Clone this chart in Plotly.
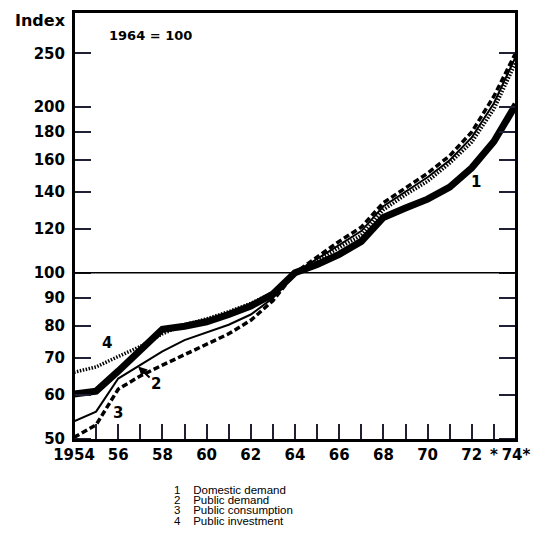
import math
import plotly.graph_objects as go

# Index values, 1964 = 100
years = list(range(1954, 1975))
domestic_demand = [60.3, 61.0, 66.3, 72.5, 79.0, 80.0, 81.5, 84.0, 87.0, 91.5, 100,
                   103.5, 108, 114, 126, 131, 136, 143, 155, 173, 202]
public_demand = [53.8, 56.0, 64.3, 68.0, 72.0, 75.5, 78.0, 80.5, 84.0, 90.0, 100,
                 106, 112.5, 119, 132, 140.5, 149, 160, 176, 203, 247]
public_consumption = [50.3, 53.0, 61.5, 65.0, 68.0, 71.0, 74.0, 77.5, 82.0, 89.0, 100,
                      107, 114, 121, 134, 142.5, 151.5, 163, 180, 209, 251]
public_investment = [66.0, 67.5, 70.5, 73.5, 77.5, 80.5, 82.5, 85.0, 88.0, 92.0, 100,
                     105.5, 111, 117, 130, 138.5, 146.5, 158, 172.5, 198, 241]

y_tickvals = [50, 60, 70, 80, 90, 100, 120, 140, 160, 180, 200, 250]
x_tickvals = years
x_ticktext = ["1954" if y == 1954 else ("*" if y == 1973 else ("74*" if y == 1974 else
              (str(y)[2:] if y % 2 == 0 else ""))) for y in years]

legend_rows = [("1", "Domestic demand"), ("2", "Public demand"),
               ("3", "Public consumption"), ("4", "Public investment")]

W, H = 533, 554
L, R, T, B = 74, 17, 12, 114
PW, PH = W - L - R, H - T - B
TICK_COLOR = "#202035"


def px(xp):
    return (xp - L) / PW


def py(yp):
    return (H - B - yp) / PH


def lg(v):
    # annotation positions on a log axis are given in log10 units
    return math.log10(v)


BOLD = dict(family="DejaVu Sans", size=15, color="black", weight="bold")

fig = go.Figure()
fig.add_trace(go.Scatter(x=years, y=public_consumption, mode="lines",
                         line=dict(color="black", width=3.5, dash="6px,3px")))
fig.add_trace(go.Scatter(x=years, y=public_demand, mode="lines",
                         line=dict(color="black", width=2)))
fig.add_trace(go.Scatter(x=years, y=domestic_demand, mode="lines",
                         line=dict(color="black", width=7)))
fig.add_trace(go.Scatter(x=years, y=public_investment, mode="lines",
                         line=dict(color="black", width=3.5, dash="1.5px,1.5px")))

# reference line at the base year level
fig.add_shape(type="line", xref="paper", yref="y", x0=0, x1=1, y0=100, y1=100,
              line=dict(color="black", width=1.5))
# frame
fig.add_shape(type="rect", xref="paper", yref="paper", x0=0, x1=1, y0=0, y1=1,
              line=dict(color="black", width=2))

ann = []
ann.append(dict(x=1955.5, y=lg(74.5), text="4", showarrow=False, font=BOLD))
ann.append(dict(x=1956.0, y=lg(55.6), text="3", showarrow=False, font=BOLD))
ann.append(dict(x=1972.2, y=lg(146), text="1", showarrow=False, font=BOLD))
ann.append(dict(x=1956.9, y=lg(67.6), text="2", showarrow=True, ax=18, ay=17,
                arrowhead=2, arrowsize=0.9, arrowwidth=2, arrowcolor="black",
                font=BOLD))
ann.append(dict(x=1955.5, y=lg(269), text="1964 = 100", xanchor="left", showarrow=False,
                font=dict(family="DejaVu Sans", size=13, color="black", weight="bold")))
ann.append(dict(xref="paper", yref="paper", x=px(40), y=py(20), text="Index",
                showarrow=False, xanchor="center", yanchor="middle",
                font=dict(family="DejaVu Sans", size=16, color="black", weight="bold")))
for i, (num, label) in enumerate(legend_rows):
    yy = 490 + i * 10.2
    ann.append(dict(xref="paper", yref="paper", x=px(172), y=py(yy),
                    text=num + "&nbsp;&nbsp;&nbsp;&nbsp;" + label,
                    showarrow=False, xanchor="left", yanchor="middle",
                    font=dict(family="Liberation Sans", size=11.5, color="black")))

fig.update_layout(
    template="none",
    width=W, height=H,
    margin=dict(l=L, r=R, t=T, b=B, autoexpand=False),
    paper_bgcolor="white", plot_bgcolor="white",
    showlegend=False,
    annotations=ann,
    xaxis=dict(range=[1954, 1974], tickmode="array", tickvals=x_tickvals,
               ticktext=x_ticktext,
               ticks="inside", ticklen=16, tickwidth=2, tickcolor=TICK_COLOR,
               showline=True, linewidth=2, linecolor="black", mirror=True,
               showgrid=False, zeroline=False, tickfont=BOLD, tickangle=0,
               automargin=False),
    yaxis=dict(type="log", range=[1.6968, 2.4728], tickmode="array",
               tickvals=y_tickvals,
               ticktext=[str(v) for v in y_tickvals],
               ticks="inside", ticklen=17, tickwidth=2, tickcolor=TICK_COLOR,
               showline=True, linewidth=2, linecolor="black", mirror="ticks",
               showgrid=False, zeroline=False, tickfont=BOLD, ticklabelstandoff=4,
               automargin=False),
)

fig.write_html("out.html")
